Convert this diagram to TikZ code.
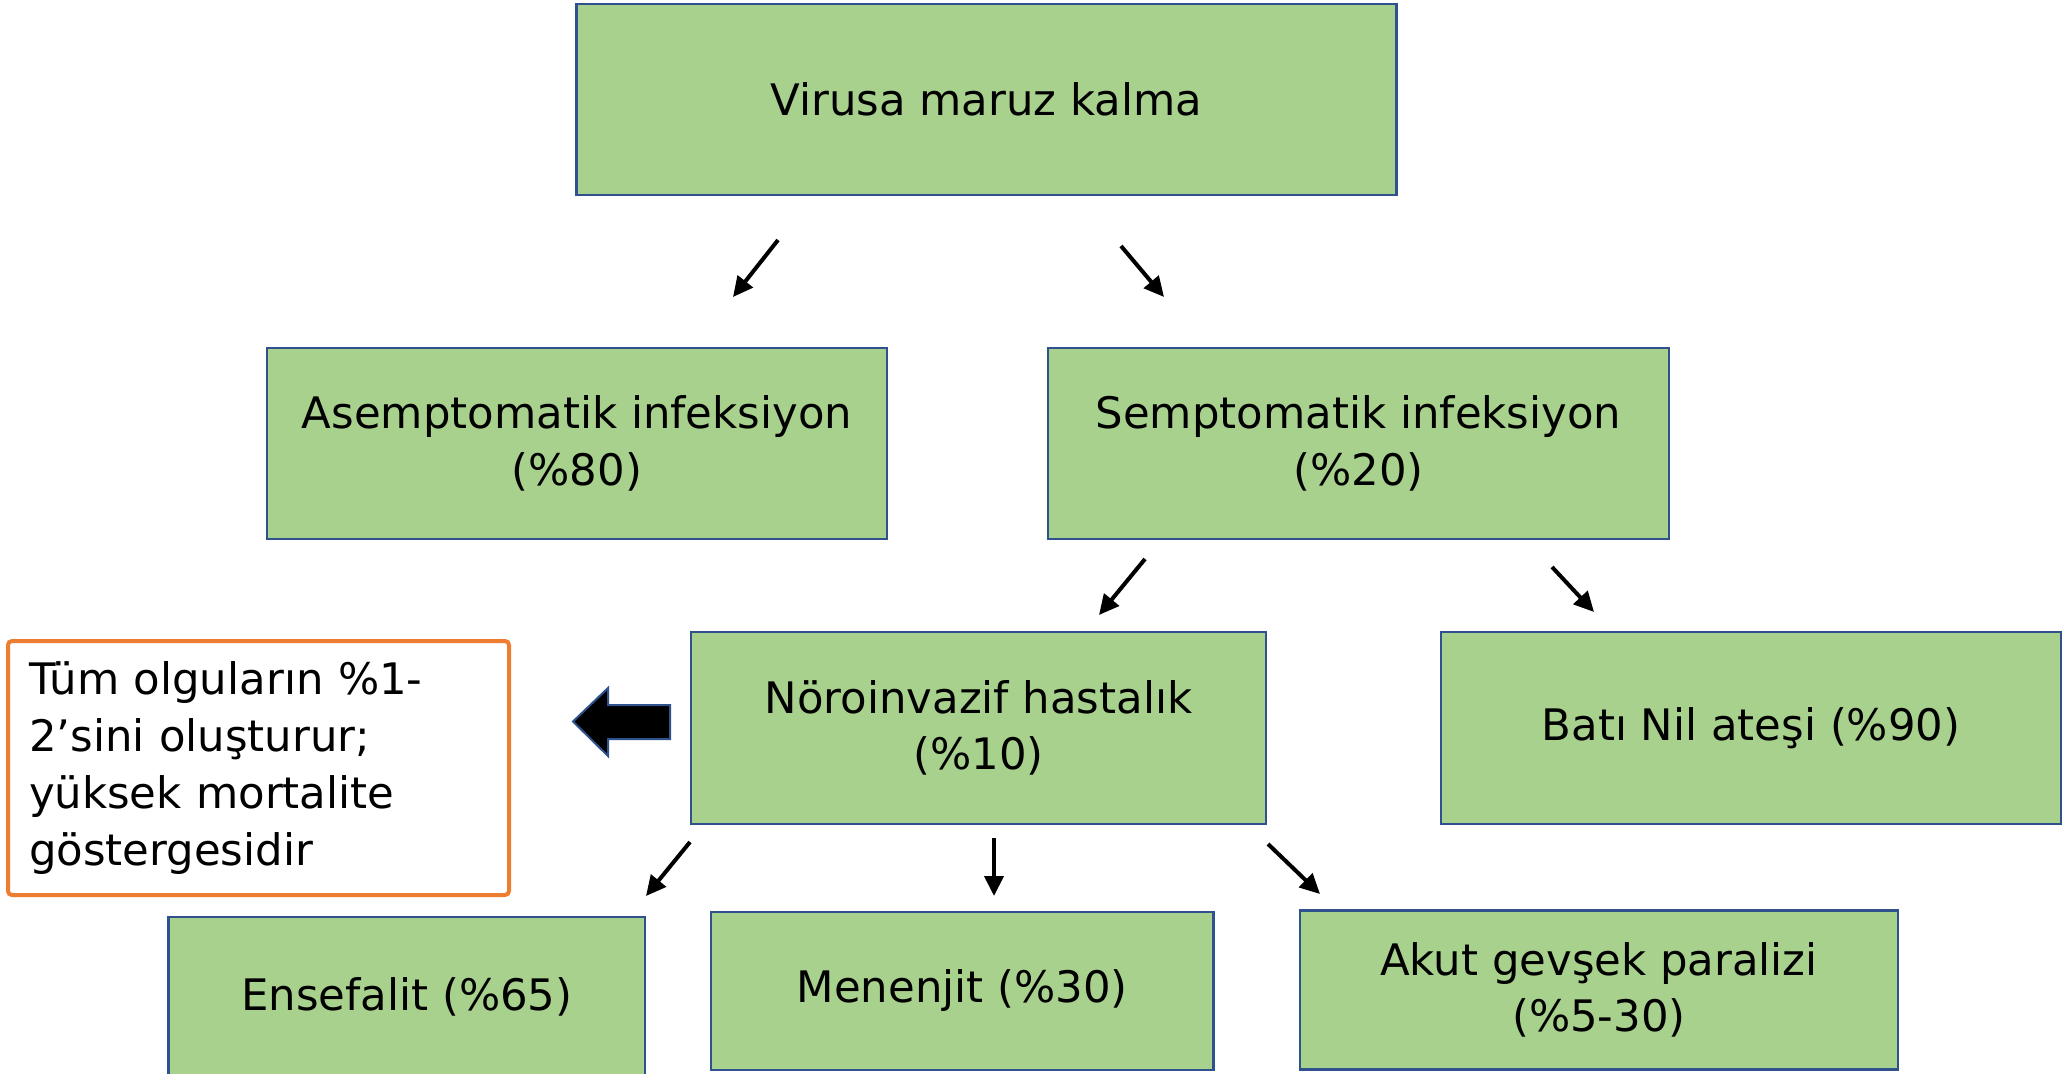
\documentclass[tikz,border=0pt]{standalone}
\usepackage{fontspec}
\setmainfont{DejaVu Sans}
\usetikzlibrary{arrows.meta}
\definecolor{boxgreen}{HTML}{A9D18E}
\definecolor{boxblue}{HTML}{2F528F}
\definecolor{boxorange}{HTML}{ED7D31}
\begin{document}
\begin{tikzpicture}[x=0.5pt,y=-0.5pt,
  gbox/.style={draw=boxblue, fill=boxgreen, line width=1.2pt, inner sep=0pt, align=center,
    font=\fontsize{21.7}{28.3}\selectfont},
  obox/.style={draw=boxorange, line width=2pt, rounded corners=2pt, inner xsep=10.5pt, inner ysep=0pt,
    align=left, font=\fontsize{21.7}{28.5}\selectfont},
  arr/.style={line width=2pt, -{Triangle[length=10pt,width=9.5pt]}},
  blockarrow/.style={fill=black, draw=boxblue, line width=1pt}]
\clip (0,0) rectangle (2064,1074);
\fill[white] (0,0) rectangle (2064,1074);

\node[gbox, minimum width=410pt, minimum height=95.5pt] (vir) at (986.5,99.5) {Virusa maruz kalma};
\node[gbox, minimum width=310pt, minimum height=95.5pt] (asy) at (577,443.5) {Asemptomatik infeksiyon\\(\%80)};
\node[gbox, minimum width=310.5pt, minimum height=95.5pt] (sym) at (1358.5,443.5) {Semptomatik infeksiyon\\(\%20)};
\node[gbox, minimum width=287.5pt, minimum height=96.25pt] (nor) at (978.5,728) {Nöroinvazif hastalık\\(\%10)};
\node[gbox, minimum width=310pt, minimum height=96.25pt] (bat) at (1751,728) {Batı Nil ateşi (\%90)};
\node[gbox, minimum width=238.25pt, minimum height=80pt] (ens) at (406.75,997) {Ensefalit (\%65)};
\node[gbox, minimum width=251.3pt, minimum height=79pt] (men) at (962.3,991) {Menenjit (\%30)};
\node[gbox, minimum width=299pt, minimum height=79.5pt] (aku) at (1599,990) {Akut gevşek paralizi\\(\%5-30)};
\node[obox, text width=229.5pt, minimum height=127pt] (note) at (258.5,768)
  {Tüm olguların \%1-\\2’sini oluşturur;\\yüksek mortalite\\göstergesidir};

\coordinate (a1s) at (778,240);  \coordinate (a1e) at (733,297);
\coordinate (a2s) at (1121,246); \coordinate (a2e) at (1164,297);
\coordinate (a3s) at (1145,559); \coordinate (a3e) at (1099,615);
\coordinate (a4s) at (1552,567); \coordinate (a4e) at (1594,612);
\coordinate (a5s) at (690,842);  \coordinate (a5e) at (646,896);
\coordinate (a6s) at (994,838);  \coordinate (a6e) at (994,896);
\coordinate (a7s) at (1268,844); \coordinate (a7e) at (1320,894);

\draw[arr] (a1s) -- (a1e);
\draw[arr] (a2s) -- (a2e);
\draw[arr] (a3s) -- (a3e);
\draw[arr] (a4s) -- (a4e);
\draw[arr] (a5s) -- (a5e);
\draw[arr] (a6s) -- (a6e);
\draw[arr] (a7s) -- (a7e);

\draw[blockarrow] (573,721.5) -- (608,688) -- (608,705) -- (670,705) -- (670,739)
  -- (608,739) -- (608,756) -- cycle;
\end{tikzpicture}
\end{document}
